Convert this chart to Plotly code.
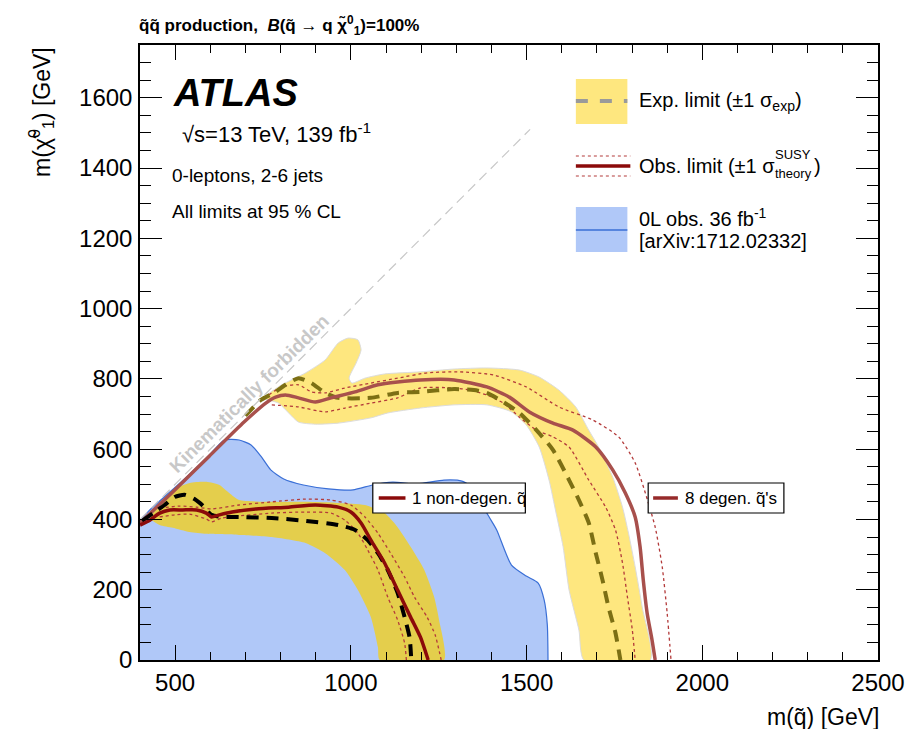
import plotly.graph_objects as go

# ---------------- data (GeV) ----------------
# 0L obs. 36 fb-1 excluded region (boundary)
blue_x = [400, 400, 428, 485, 541, 597, 640, 682, 716, 744, 772, 809, 865, 936, 1006, 1062, 1119, 1189, 1265, 1316, 1360, 1387, 1415, 1457, 1499, 1533, 1550, 1559, 1561]
blue_y = [0, 395, 427, 478, 529, 583, 626, 626, 612, 580, 541, 515, 498, 487, 484, 498, 506, 501, 512, 509, 480, 418, 370, 270, 239, 219, 171, 100, 0]

# 1 non-degenerate squark
nd_band_up_x = [428, 456, 493, 541, 589, 626, 654, 682, 775, 871, 964, 1040, 1096, 1133, 1170, 1209, 1237, 1251, 1265]
nd_band_up_y = [404, 441, 484, 504, 507, 498, 475, 455, 450, 450, 447, 441, 418, 378, 322, 256, 179, 114, 0]
nd_band_dn_x = [428, 456, 493, 541, 589, 682, 775, 871, 927, 983, 1020, 1057, 1077, 1082]
nd_band_dn_y = [404, 384, 376, 364, 359, 356, 350, 333, 304, 256, 199, 122, 37, 0]
nd_exp_x = [406, 442, 470, 499, 527, 555, 580, 603, 634, 682, 775, 871, 964, 1012, 1048, 1077, 1105, 1133, 1153, 1167, 1172]
nd_exp_y = [396, 421, 441, 464, 470, 458, 438, 413, 407, 407, 404, 396, 384, 370, 341, 304, 256, 191, 122, 65, 0]
nd_obs_x = [400, 428, 456, 485, 521, 561, 589, 603, 626, 662, 730, 823, 899, 964, 1000, 1029, 1057, 1096, 1133, 1170, 1198, 1220]
nd_obs_y = [384, 398, 418, 427, 427, 427, 418, 407, 413, 421, 430, 435, 441, 435, 421, 390, 341, 276, 199, 122, 65, 0]
nd_obs_up_x = [456, 513, 561, 603, 682, 775, 871, 944, 1000, 1040, 1077, 1113, 1153, 1181, 1217, 1240, 1257]
nd_obs_up_y = [432, 438, 435, 430, 441, 450, 458, 455, 441, 407, 361, 304, 236, 179, 122, 71, 0]
nd_obs_dn_x = [456, 499, 541, 589, 603, 634, 775, 871, 944, 983, 1020, 1048, 1077, 1105, 1133, 1153, 1158]
nd_obs_dn_y = [407, 413, 415, 401, 393, 404, 418, 421, 418, 398, 361, 313, 256, 179, 114, 48, 0]

# 8 degenerate squarks
dg_band_up_x = [752, 761, 803, 871, 927, 964, 992, 1020, 1029, 1015, 995, 1003, 1040, 1096, 1198, 1294, 1387, 1480, 1536, 1592, 1640, 1677, 1705, 1745, 1773, 1790, 1809, 1829, 1852]
dg_band_up_y = [745, 754, 783, 817, 854, 902, 916, 911, 882, 845, 802, 788, 802, 814, 820, 828, 831, 825, 805, 768, 720, 654, 606, 521, 435, 361, 265, 151, 0]
dg_band_dn_x = [752, 794, 823, 851, 899, 964, 1057, 1105, 1198, 1294, 1387, 1457, 1499, 1536, 1564, 1584, 1604, 1621, 1649, 1663]
dg_band_dn_y = [745, 731, 703, 677, 671, 674, 689, 703, 717, 726, 726, 706, 669, 606, 512, 418, 322, 199, 85, 0]
dg_exp_x = [700, 744, 786, 814, 851, 888, 927, 964, 1057, 1133, 1198, 1294, 1350, 1387, 1434, 1480, 1528, 1575, 1621, 1649, 1677, 1697, 1716, 1733, 1753, 1767]
dg_exp_y = [695, 740, 763, 783, 802, 788, 760, 746, 746, 760, 763, 771, 768, 760, 734, 703, 654, 598, 512, 455, 390, 304, 228, 151, 77, 0]
dg_obs_x = [400, 499, 597, 696, 758, 786, 814, 851, 899, 944, 1012, 1077, 1133, 1198, 1294, 1387, 1451, 1508, 1575, 1632, 1697, 1745, 1781, 1809, 1823, 1832, 1843, 1857, 1866]
dg_obs_y = [390, 484, 580, 677, 731, 748, 754, 746, 734, 746, 763, 783, 791, 797, 797, 777, 748, 706, 674, 654, 606, 541, 475, 407, 322, 228, 134, 57, 0]
dg_obs_up_x = [766, 803, 851, 888, 927, 983, 1057, 1133, 1217, 1310, 1406, 1499, 1592, 1688, 1762, 1809, 1838, 1866, 1886, 1900, 1911]
dg_obs_up_y = [754, 777, 783, 763, 760, 774, 788, 802, 817, 820, 811, 777, 720, 683, 635, 561, 475, 378, 265, 134, 0]
dg_obs_dn_x = [775, 851, 927, 983, 1057, 1133, 1198, 1294, 1339, 1387, 1434, 1480, 1528, 1575, 1621, 1677, 1725, 1753, 1773, 1787, 1801, 1809]
dg_obs_dn_y = [726, 720, 706, 717, 731, 746, 774, 774, 768, 754, 731, 691, 654, 635, 606, 512, 435, 370, 276, 179, 85, 0]

# kinematic limit m(chi) = m(squark)
diag_x = [400, 1510]
diag_y = [400, 1510]

x_ticks = [500, 1000, 1500, 2000, 2500]
y_ticks = [0, 200, 400, 600, 800, 1000, 1200, 1400, 1600]

# ---------------- styles ----------------
FONT = "Liberation Sans"
BLUE_FILL = "#B0C8F8"
BLUE_LINE = "#3A6FD6"
YEL = "#FEE77F"
YEL_DARK = "#E4CE4C"
OBS8 = "#A8504C"
OBS1 = "#8B0A0A"
DOT = "#B33A3A"
EXP8 = "#7C6F14"

# page has an 8px body margin: figure drawn from (8, 8)
OFF = 8
W, H = 917 - OFF, 729 - OFF
X0, X1, Y0, Y1 = 140, 885, 45, 660   # plot box in window pixels
L, R, T, B = X0 - OFF, (OFF + W) - X1, Y0 - OFF, (OFF + H) - Y1
PW, PH = X1 - X0, Y1 - Y0


def px(x):
    return (x - X0) / PW


def py(y):
    return (Y1 - y) / PH


fig = go.Figure()

# blue region
fig.add_trace(go.Scatter(x=blue_x, y=blue_y, fill="toself", fillcolor=BLUE_FILL,
                         mode="lines", line=dict(width=0, shape="spline", smoothing=0.6),
                         hoverinfo="skip", showlegend=False))
fig.add_trace(go.Scatter(x=blue_x[1:], y=blue_y[1:], mode="lines",
                         line=dict(color=BLUE_LINE, width=1.2, shape="spline", smoothing=0.6),
                         hoverinfo="skip", showlegend=False))

# 8 degen band
fig.add_trace(go.Scatter(x=dg_band_up_x + dg_band_dn_x[::-1], y=dg_band_up_y + dg_band_dn_y[::-1],
                         fill="toself", fillcolor=YEL, mode="lines",
                         line=dict(color="#DCDCDC", width=1, shape="spline", smoothing=0.6),
                         hoverinfo="skip", showlegend=False))
# 1 non-degen band
fig.add_trace(go.Scatter(x=nd_band_up_x + nd_band_dn_x[::-1], y=nd_band_up_y + nd_band_dn_y[::-1],
                         fill="toself", fillcolor=YEL_DARK, mode="lines",
                         line=dict(width=0, shape="spline", smoothing=0.6),
                         hoverinfo="skip", showlegend=False))

# 8 degen lines
for xs, ys in [(dg_obs_up_x, dg_obs_up_y), (dg_obs_dn_x, dg_obs_dn_y)]:
    fig.add_trace(go.Scatter(x=xs, y=ys, mode="lines",
                             line=dict(color=DOT, width=1.3, dash="dot", shape="spline", smoothing=0.6),
                             hoverinfo="skip", showlegend=False))
fig.add_trace(go.Scatter(x=dg_exp_x, y=dg_exp_y, mode="lines",
                         line=dict(color=EXP8, width=4, dash="12px,8px", shape="spline", smoothing=0.6),
                         hoverinfo="skip", showlegend=False))
fig.add_trace(go.Scatter(x=dg_obs_x, y=dg_obs_y, mode="lines",
                         line=dict(color=OBS8, width=3.5, shape="spline", smoothing=0.6),
                         hoverinfo="skip", showlegend=False))

# 1 non-degen lines
for xs, ys in [(nd_obs_up_x, nd_obs_up_y), (nd_obs_dn_x, nd_obs_dn_y)]:
    fig.add_trace(go.Scatter(x=xs, y=ys, mode="lines",
                             line=dict(color=DOT, width=1.3, dash="dot", shape="spline", smoothing=0.6),
                             hoverinfo="skip", showlegend=False))
fig.add_trace(go.Scatter(x=nd_exp_x, y=nd_exp_y, mode="lines",
                         line=dict(color="black", width=4, dash="12px,8px", shape="spline", smoothing=0.6),
                         hoverinfo="skip", showlegend=False))
fig.add_trace(go.Scatter(x=nd_obs_x, y=nd_obs_y, mode="lines",
                         line=dict(color=OBS1, width=3.5, shape="spline", smoothing=0.6),
                         hoverinfo="skip", showlegend=False))

# kinematic line
fig.add_trace(go.Scatter(x=diag_x, y=diag_y, mode="lines",
                         line=dict(color="#C8C8C8", width=1.2, dash="10px,6px"),
                         hoverinfo="skip", showlegend=False))

shapes = []
ann = []


def text(x, y, s, size, xanchor="left", yanchor="middle", color="black", angle=0, family=FONT):
    ann.append(dict(x=px(x), y=py(y), xref="paper", yref="paper", text=s, showarrow=False,
                    xanchor=xanchor, yanchor=yanchor, textangle=angle,
                    font=dict(family=family, size=size, color=color)))


def rect(x0, y0, x1, y1, fill, line=None, lw=0):
    shapes.append(dict(type="rect", xref="paper", yref="paper", x0=px(x0), x1=px(x1), y0=py(y1), y1=py(y0),
                       fillcolor=fill, line=dict(color=line or fill, width=lw), layer="above"))


def hline(x0, x1, y, color, width, dash="solid"):
    shapes.append(dict(type="line", xref="paper", yref="paper", x0=px(x0), x1=px(x1), y0=py(y), y1=py(y),
                       line=dict(color=color, width=width, dash=dash), layer="above"))


# top-right legend
rect(580, 79, 632, 124, YEL)
hline(580, 632, 101, "#9A9A9A", 4, "dash")
text(642, 101, "Exp. limit (±1 σ<sub>exp</sub>)", 20)

hline(580, 635, 156, DOT, 1, "dot")
hline(580, 635, 176, DOT, 1, "dot")
hline(580, 635, 166, OBS1, 3.5)
text(642, 166, "Obs. limit (±1 σ", 20)
text(779, 154, "SUSY", 13)
text(779, 174, "theory", 13)
text(818, 166, ")", 20)

rect(580, 207, 632, 252, BLUE_FILL)
hline(580, 632, 230, BLUE_LINE, 1.5)
text(642, 218, "0L obs. 36 fb<sup>-1</sup>", 20)
text(642, 241, "[arXiv:1712.02332]", 20)

# in-plot labels
rect(375, 483, 529, 513, "white", "black", 1.2)
hline(381, 408, 498, OBS1, 3.5)
text(413, 498, "1 non-degen. q\u0303", 17)

rect(653, 483, 790, 513, "white", "black", 1.2)
hline(658, 683, 498, "#962A2A", 3.5)
text(688, 498, "8 degen. q\u0303's", 17)

# ATLAS texts
text(171, 93, "<b><i>ATLAS</i></b>", 38)
text(180, 133, "√s=13 TeV, 139 fb<sup>-1</sup>", 22)
text(170, 175, "0-leptons, 2-6 jets", 19)
text(170, 211, "All limits at 95 % CL", 19)

# Kinematically forbidden
text(250, 393, "<b>Kinematically forbidden</b>", 19, xanchor="center", color="#C8C8C8", angle=-44.7)

# title
text(137, 25, "<b>q\u0303q\u0303 production,  <i>B</i>(q\u0303 → q χ\u0303<sup>0</sup><sub>1</sub>)=100%</b>", 17)

# axis titles
text(888, 717, "m(q\u0303) [GeV]", 23, xanchor="right")
ann.append(dict(x=px(40), y=1.0, xref="paper", yref="paper", text="m(χ\u0303<sup>0</sup><sub>1</sub>) [GeV]",
                showarrow=False, xanchor="center", yanchor="top", textangle=-90,
                font=dict(family=FONT, size=23, color="black")))

fig.update_layout(
    width=W, height=H,
    margin=dict(l=L, r=R, t=T, b=B),
    paper_bgcolor="white", plot_bgcolor="white",
    showlegend=False,
    shapes=shapes, annotations=ann,
    font=dict(family=FONT, color="black"),
    xaxis=dict(range=[400, 2500], tickvals=x_ticks, ticks="inside", ticklen=15, tickwidth=1.2,
               tickcolor="black", showline=True, linecolor="black", linewidth=1.5, mirror="ticks",
               showgrid=False, zeroline=False, tickfont=dict(family=FONT, size=24),
               ticklabelstandoff=0,
               minor=dict(dtick=100, tick0=0, ticks="inside", ticklen=8, tickwidth=1.2, tickcolor="black", showgrid=False)),
    yaxis=dict(range=[0, 1750], tickvals=y_ticks, ticks="inside", ticklen=22, tickwidth=1.2,
               tickcolor="black", showline=True, linecolor="black", linewidth=1.5, mirror="ticks",
               showgrid=False, zeroline=False, tickfont=dict(family=FONT, size=24),
               ticklabelstandoff=1,
               minor=dict(dtick=50, tick0=0, ticks="inside", ticklen=11, tickwidth=1.2, tickcolor="black", showgrid=False)),
)

fig.write_html("out.html")
